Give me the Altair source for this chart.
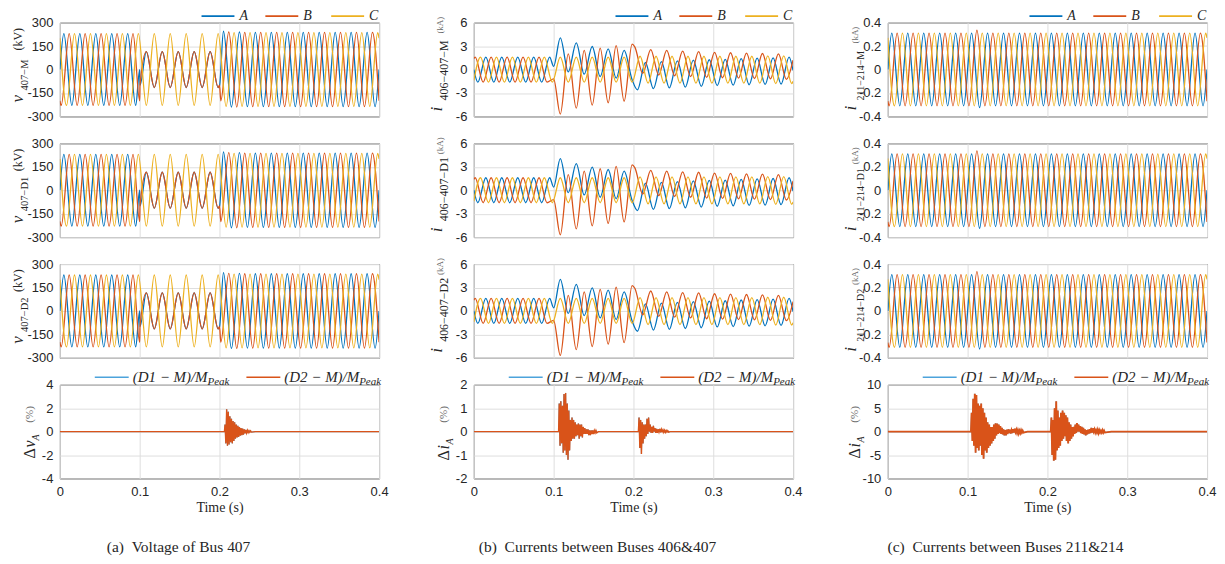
import altair as alt
import pandas as pd

# ------------------------------------------------------------------
# Data.  Waves are given by their successive
# extrema (one every half period of the 50 Hz wave) plus a few
# explicit points (edges, fault inception / clearing).
# ------------------------------------------------------------------
T_STEP = 0.01     # time between successive extrema (s)
B_STEP = 0.001    # sample spacing inside the difference bursts (s)

# (a) Voltage of Bus 407, kV  (M, D1, D2 look identical)
VA_A_SEGS = [
    (0.005, [230, -230, 230, -230, 230, -230, 230, -230, 230, -230]),
    (0.10833, [115, -115, 115, -115, 115, -115, 115, -115, 115, -115]),
    (0.205, [245, -240, 240, -238, 238, -238, 238, -238, 238, -238,
             238, -238, 238, -238, 238, -238, 238, -238, 238, -238]),
]
VA_A_PTS = [(0.0, 0), (0.1, 0), (0.1004, -100), (0.2, -105), (0.4, 0)]
VA_B_SEGS = [
    (0.00167, [-230, 230, -230, 230, -230, 230, -230, 230, -230, 230]),
    (0.10833, [115, -115, 115, -115, 115, -115, 115, -115, 115, -115]),
    (0.20167, [-200, 240, -240, 238, -238, 238, -238, 238, -238, 238,
               -238, 238, -238, 238, -238, 238, -238, 238, -238, 238]),
]
VA_B_PTS = [(0.0, -200), (0.1, -200), (0.1004, -100), (0.2, -100), (0.4, -200)]
VA_C_SEGS = [
    (0.00833, [-230, 230, -230, 230, -230, 230, -230, 230, -230, 230,
               -230, 230, -230, 230, -230, 230, -230, 230, -230, 230,
               -236, 236, -236, 236, -236, 236, -236, 236, -236, 236,
               -236, 236, -236, 236, -236, 236, -236, 236, -236, 236]),
]
VA_C_PTS = [(0.0, 200), (0.4, 200)]

# (b) Currents between Buses 406 & 407, kA
IB_A_SEGS = [
    (0.005, [-1.6, 1.6, -1.6, 1.6, -1.6, 1.6, -1.6, 1.6, -1.6, 1.6]),
    (0.10833, [4.05, -0.3, 3.4, -0.6, 2.95, -0.9, 2.65, -1.1, 2.45, -1.3]),
    (0.205, [-2.6, 0.9, -2.45, 1.0, -2.35, 1.1, -2.25, 1.2, -2.15, 1.25,
             -2.05, 1.3, -2.0, 1.4, -1.95, 1.45, -1.9, 1.5, -1.85, 1.6]),
]
IB_A_PTS = [(0.0, 0.0), (0.1, 0.4), (0.4, -0.1)]
IB_B_SEGS = [
    (0.00167, [1.6, -1.6, 1.6, -1.6, 1.6, -1.6, 1.6, -1.6, 1.6, -1.6]),
    (0.10833, [-5.7, 2.0, -4.95, 2.45, -4.55, 2.75, -4.25, 3.05, -4.05, 3.25]),
    (0.20167, [2.9, -0.5, 2.55, -0.7, 2.45, -0.8, 2.35, -0.9, 2.3, -1.0,
               2.2, -1.05, 2.15, -1.1, 2.1, -1.15, 2.05, -1.2, 2.0, -1.25]),
]
IB_B_PTS = [(0.0, 1.39), (0.1, -1.2), (0.4, 1.2)]
IB_C_SEGS = [
    (0.00833, [1.6, -1.6, 1.6, -1.6, 1.6, -1.6, 1.6, -1.6, 1.6, -1.6,
               1.6, -1.6, 1.6, -1.6, 1.6, -1.6, 1.6, -1.6, 1.6, -1.6,
               1.7, -1.75, 1.7, -1.75, 1.7, -1.75, 1.7, -1.75, 1.7, -1.75,
               1.7, -1.75, 1.7, -1.75, 1.7, -1.75, 1.75, -1.8, 1.75, -1.8]),
]
IB_C_PTS = [(0.0, -1.39), (0.4, -1.5)]

# (c) Currents between Buses 211 & 214, kA
IC_A_SEGS = [
    (0.005, [0.31, -0.31, 0.31, -0.31, 0.31, -0.31, 0.31, -0.31, 0.31, -0.31,
             0.31, -0.325, 0.31, -0.31, 0.31, -0.31, 0.31, -0.31, 0.31, -0.31,
             0.31, -0.31, 0.31, -0.31, 0.31, -0.31, 0.31, -0.31, 0.31, -0.31,
             0.31, -0.31, 0.31, -0.31, 0.31, -0.31, 0.31, -0.31, 0.31, -0.31]),
]
IC_A_PTS = [(0.0, 0.0), (0.4, 0.0)]
IC_B_SEGS = [
    (0.00167, [-0.31, 0.31, -0.31, 0.31, -0.31, 0.31, -0.31, 0.31, -0.31, 0.31,
               -0.31, 0.335, -0.31, 0.31, -0.31, 0.31, -0.31, 0.31, -0.31, 0.31,
               -0.31, 0.31, -0.31, 0.31, -0.31, 0.31, -0.31, 0.31, -0.31, 0.31,
               -0.31, 0.31, -0.31, 0.31, -0.31, 0.31, -0.31, 0.31, -0.31, 0.31]),
]
IC_B_PTS = [(0.0, -0.27), (0.4, -0.27)]
IC_C_SEGS = [
    (0.00833, [-0.31, 0.31, -0.31, 0.31, -0.31, 0.31, -0.31, 0.31, -0.31, 0.31,
               -0.31, 0.31, -0.31, 0.31, -0.31, 0.31, -0.31, 0.31, -0.31, 0.31,
               -0.31, 0.31, -0.31, 0.31, -0.31, 0.31, -0.31, 0.31, -0.31, 0.31,
               -0.31, 0.31, -0.31, 0.31, -0.31, 0.31, -0.31, 0.31, -0.31, 0.31]),
]
IC_C_PTS = [(0.0, 0.27), (0.4, 0.27)]

# Bottom row: relative differences, % (D1 and D2 overlap)
DV_SEGS = [
    (0.207, [0.6, -1.0, 1.9, -1.2, 1.7, -1.1, 1.3, -0.9, 1.1, -1.0, 0.9, -0.8,
             0.8, -0.6, 0.6, -0.5, 0.5, -0.45, 0.4, -0.35, 0.3, -0.3, 0.25, -0.25,
             0.2, -0.15, 0.15, -0.12, 0.12, -0.08, 0.08, -0.06, 0.06, -0.04]),
]
DV_PTS = [(0.0, 0.0), (0.2062, 0.0), (0.245, 0.0), (0.4, 0.0)]
DI1_SEGS = [
    (0.107, [1.2, -0.6, 1.3, -0.5, 1.1, -0.9, 1.6, -0.8, 1.65, -1.0, 1.2, -1.2,
             0.9, -0.8, 0.5, -0.4, 0.6, -0.3, 0.5, -0.3, 0.4, -0.2, 0.3, -0.15,
             0.35, -0.3, 0.3, -0.2, 0.3, -0.25, 0.2, -0.1, 0.15, -0.1, 0.1, -0.1,
             0.1, -0.15, 0.05, -0.15, 0.05, -0.1, 0.05, -0.1, 0.05, -0.05, 0.05, -0.05]),
    (0.207, [0.6, -0.7, 0.5, -0.95, 0.4, -0.5, 0.3, -0.3, 0.3, -0.2, 0.55, -0.1,
             0.6, 0.0, 0.3, -0.05, 0.2, -0.05, 0.25, 0.0, 0.15, -0.05, 0.12, -0.05,
             0.1, -0.02, 0.12, -0.03, 0.1, 0.0, 0.08, -0.03, 0.06, -0.03, 0.05, -0.02,
             0.04, -0.02]),
]
DI1_PTS = [(0.0, 0.0), (0.1062, 0.0), (0.156, 0.0), (0.2062, 0.0), (0.246, 0.0), (0.4, 0.0)]
DI2_SEGS = [
    (0.105, [4.0, -2.0, 7.0, -3.0, 8.1, -4.5, 7.8, -3.5, 6.0, -4.0, 5.5, -3.0,
             6.0, -5.0, 5.0, -5.8, 4.0, -4.0, 3.0, -4.5, 2.0, -3.5, 1.5, -3.0,
             1.0, -2.5, 1.0, -2.0, 1.5, -1.5, 1.8, -0.8, 1.7, -0.5, 1.5, -0.3,
             1.2, -0.5, 0.8, -0.6, 0.5, -0.8, 0.3, -0.8, 0.4, -0.5, 0.5, -0.3,
             0.4, -0.4, 0.3, -0.3, 0.5, -0.2, 0.6, -0.1, 0.4, -0.3, 0.3, -0.4,
             0.2, -0.3, 0.3, -0.2, 0.2, -0.2]),
    (0.205, [3.0, -5.0, 2.5, -6.2, 5.0, -6.0, 6.5, -4.0, 4.5, -3.5, 3.0, -3.0,
             4.0, -2.0, 4.5, -1.5, 4.0, -1.0, 3.5, -2.0, 3.0, -2.5, 2.0, -2.0,
             1.5, -1.5, 1.0, -1.0, 1.0, -0.5, 1.5, -0.3, 1.8, 0.0, 1.5, 0.0,
             1.2, -0.3, 1.0, -0.5, 0.8, -0.6, 0.5, -0.8, 0.3, -0.6, 0.4, -0.4,
             0.5, -0.3, 0.8, -0.2, 0.7, 0.0, 0.5, -0.2, 0.3, -0.2, 0.4, -0.3,
             0.3, -0.2, 0.2, -0.2, 0.3, -0.2, 0.2, -0.2]),
]
DI2_PTS = [(0.0, 0.0), (0.1042, 0.0), (0.175, 0.0), (0.2042, 0.0), (0.28, 0.0), (0.4, 0.0)]

X_TICKS = [0, 0.1, 0.2, 0.3, 0.4]
CAPTIONS = ["(a)\u2002Voltage of Bus 407",
            "(b)\u2002Currents between Buses 406&407",
            "(c)\u2002Currents between Buses 211&214"]

# ------------------------------------------------------------------
COL_A, COL_B, COL_C = "#0072BD", "#D95319", "#EDB120"
COL_D1, COL_D2 = "#4DA3DB", "#D95319"
INK = "#262626"
GRAY = "#6b6b6b"
GRID = "#dedede"
W, H = 320, 94
ONE = pd.DataFrame({"k": [0]})
LABEL_EXPR = "replace(format(datum.value, ''), '\u2212', '-')"


def build(segs, pts, step):
    rows = list(pts)
    for t0, vals in segs:
        for k, v in enumerate(vals):
            rows.append((round(t0 + k * step, 6), v))
    rows.sort()
    return pd.DataFrame(rows, columns=["t", "v"])


def yaxis(ticks):
    return alt.Axis(values=ticks, title=None, grid=True, gridColor=GRID,
                    ticks=False, domain=False, labelFont="Liberation Sans",
                    labelFontSize=13, labelColor=INK, labelPadding=7,
                    labelExpr=LABEL_EXPR)


def xaxis(show):
    if show:
        return alt.Axis(values=X_TICKS, title="Time (s)", grid=True, gridColor=GRID,
                        ticks=False, domain=False, labelFont="Liberation Sans",
                        labelFontSize=13, labelColor=INK, labelPadding=7,
                        labelFlush=False, labelExpr=LABEL_EXPR,
                        titleFont="Liberation Serif", titleFontSize=14,
                        titleFontWeight="normal", titleColor=INK, titlePadding=2)
    return alt.Axis(values=X_TICKS, title=None, labels=False, grid=True,
                    gridColor=GRID, ticks=False, domain=False)


def txt(s, x, y, size, style="normal", color=INK, angle=270, align="left",
        baseline="alphabetic", font="Liberation Serif"):
    return alt.Chart(ONE).mark_text(
        text=s, font=font, fontSize=size, fontStyle=style, color=color,
        angle=angle, align=align, baseline=baseline
    ).encode(x=alt.value(x), y=alt.value(y))


def rule(x1, x2, y, color, sw=1.6):
    return alt.Chart(ONE).mark_rule(color=color, strokeWidth=sw).encode(
        x=alt.value(x1), x2=alt.value(x2), y=alt.value(y))


def lines(series, ydom, yticks, show_x, interp):
    out = []
    for df, color, sw in series:
        out.append(alt.Chart(df).mark_line(
            color=color, strokeWidth=sw, interpolate=interp, clip=True
        ).encode(
            x=alt.X("t:Q", scale=alt.Scale(domain=[0, 0.4], nice=False, zero=False),
                    axis=xaxis(show_x)),
            y=alt.Y("v:Q", scale=alt.Scale(domain=ydom, nice=False, zero=False),
                    axis=yaxis(yticks)),
        ))
    return out


def abc_legend():
    ly = -6.5
    return [rule(142, 175, ly, COL_A), txt("A", 180, ly, 14, "italic", angle=0, baseline="middle"),
            rule(206, 239, ly, COL_B), txt("B", 244, ly, 14, "italic", angle=0, baseline="middle"),
            rule(272, 305, ly, COL_C), txt("C", 310, ly, 14, "italic", angle=0, baseline="middle")]


def diff_legend():
    ly = -7.5
    out = []
    for x0, lab, col in [(35, "D1", COL_D1), (187, "D2", COL_D2)]:
        out += [rule(x0, x0 + 34, ly, col),
                txt("(" + lab + " \u2212 M)/M", x0 + 38, ly + 5, 15, "italic", angle=0),
                txt("Peak", x0 + 135, ly + 8, 11, "italic", angle=0, align="right")]
    return out


# ---------------- panels ----------------
SW = 1.3
va = [(build(VA_A_SEGS, VA_A_PTS, T_STEP), COL_A, SW),
      (build(VA_B_SEGS, VA_B_PTS, T_STEP), COL_B, SW),
      (build(VA_C_SEGS, VA_C_PTS, T_STEP), COL_C, SW)]
ib = [(build(IB_A_SEGS, IB_A_PTS, T_STEP), COL_A, SW),
      (build(IB_B_SEGS, IB_B_PTS, T_STEP), COL_B, SW),
      (build(IB_C_SEGS, IB_C_PTS, T_STEP), COL_C, SW)]
ic = [(build(IC_A_SEGS, IC_A_PTS, T_STEP), COL_A, SW),
      (build(IC_B_SEGS, IC_B_PTS, T_STEP), COL_B, SW),
      (build(IC_C_SEGS, IC_C_PTS, T_STEP), COL_C, SW)]
dv = build(DV_SEGS, DV_PTS, B_STEP)
di1 = build(DI1_SEGS, DI1_PTS, B_STEP)
di2 = build(DI2_SEGS, DI2_PTS, B_STEP)

SUBS_A = ["407\u2212M", "407\u2212D1", "407\u2212D2"]
SUBS_B = ["406\u2212407\u2212M", "406\u2212407\u2212D1", "406\u2212407\u2212D2"]
SUBS_C = ["211\u2212214\u2212M", "211\u2212214\u2212D1", "211\u2212214\u2212D2"]


def panel_a(r):
    layers = lines(va, [-300, 300], [-300, -150, 0, 150, 300], False, "monotone")
    layers += [txt("v", -37, 80, 17, "italic"), txt(SUBS_A[r], -32, 68, 10.5),
               txt("(kV)", -38, 28, 12)]
    if r == 0:
        layers += abc_legend()
    return alt.layer(*layers).properties(width=W, height=H)


def panel_b(r):
    layers = lines(ib, [-6, 6], [-6, -3, 0, 3, 6], False, "monotone")
    layers += [txt("i", -32, 89, 17, "italic"), txt(SUBS_B[r], -26, 78, 12),
               txt("(kA)", -31, 11, 9, color=GRAY)]
    if r == 0:
        layers += abc_legend()
    return alt.layer(*layers).properties(width=W, height=H)


def panel_c(r):
    layers = lines(ic, [-0.4, 0.4], [-0.4, -0.2, 0, 0.2, 0.4], False, "monotone")
    layers += [txt("i", -32, 88, 17, "italic"), txt(SUBS_C[r], -24, 78, 10),
               txt("(kA)", -30, 21, 9, color=GRAY)]
    if r == 0:
        layers += abc_legend()
    return alt.layer(*layers).properties(width=W, height=H)


def bottom_a():
    layers = lines([(dv, COL_D1, 0.9), (dv, COL_D2, 1.4)], [-4, 4], [-4, -2, 0, 2, 4], True, "linear")
    layers += [txt("\u0394", -25, 74, 16), txt("v", -25, 63, 16, "italic"),
               txt("A", -21, 56, 10, "italic"), txt("(%)", -27, 38, 11, color=GRAY)]
    layers += diff_legend() + [txt(CAPTIONS[0], 119, 168, 15.5, angle=0, align="center")]
    return alt.layer(*layers).properties(width=W, height=H)


def bottom_b():
    layers = lines([(di1, COL_D1, 0.9), (di1, COL_D2, 1.4)], [-2, 2], [-2, -1, 0, 1, 2], True, "linear")
    layers += [txt("\u0394", -25, 76, 16), txt("i", -25, 65, 16, "italic"),
               txt("A", -21, 60, 10, "italic"), txt("(%)", -27, 38, 11, color=GRAY)]
    layers += diff_legend() + [txt(CAPTIONS[1], 124, 168, 15.5, angle=0, align="center")]
    return alt.layer(*layers).properties(width=W, height=H)


def bottom_c():
    layers = lines([(di2, COL_D1, 1.2), (di2, COL_D2, 1.9)], [-10, 10], [-10, -5, 0, 5, 10], True, "linear")
    layers += [txt("\u0394", -28, 74, 16), txt("i", -28, 63, 16, "italic"),
               txt("A", -24, 58, 10, "italic"), txt("(%)", -30, 38, 11, color=GRAY)]
    layers += diff_legend() + [txt(CAPTIONS[2], 118, 168, 15.5, angle=0, align="center")]
    return alt.layer(*layers).properties(width=W, height=H)


panels = []
for r in range(3):
    panels += [panel_a(r), panel_b(r), panel_c(r)]
panels += [bottom_a(), bottom_b(), bottom_c()]

chart = alt.concat(*panels, columns=3, spacing={"row": 27, "column": 95},
                   bounds="flush").properties(
    padding={"left": 0, "top": 0, "right": 0, "bottom": 0}, background="white"
).configure_view(stroke=INK, strokeWidth=1)

chart.save("out.html", embed_options={"renderer": "svg", "actions": False})
